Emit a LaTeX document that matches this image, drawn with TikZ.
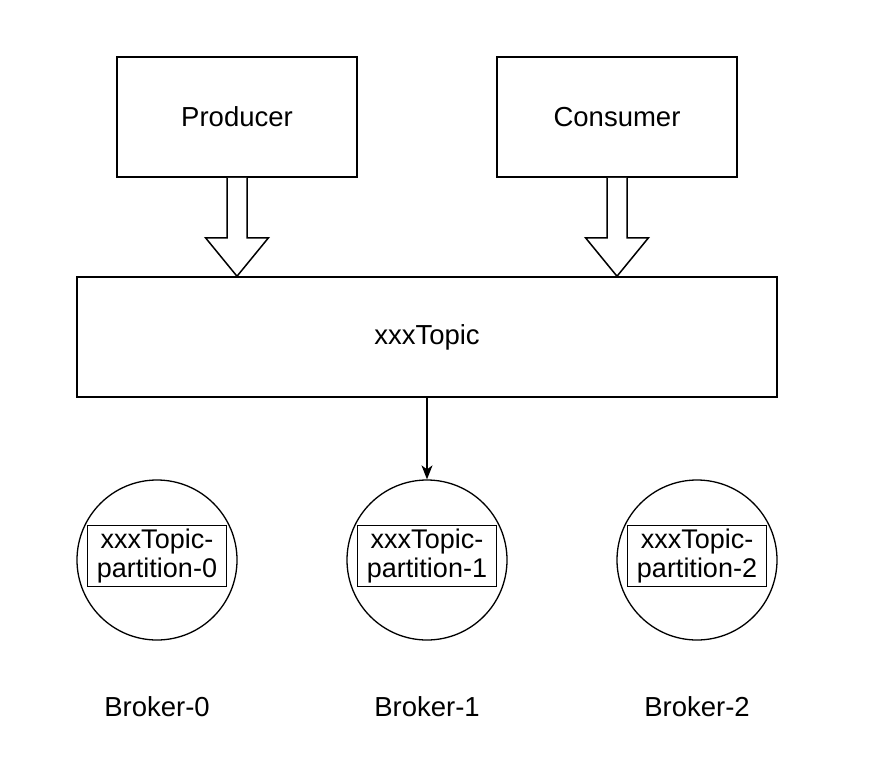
\documentclass[tikz,border=0pt]{standalone}
\usepackage{fontspec}
\setmainfont{Liberation Sans}
\usetikzlibrary{calc,arrows.meta}
\tikzset{
  box/.style={draw,line width=1.5pt,minimum width=240pt,minimum height=120pt,font=\fontsize{27.5}{32}\selectfont},
  broker/.style={draw,circle,line width=1.3pt,minimum size=160pt,inner sep=0pt},
  part/.style={draw,line width=1.3pt,minimum width=139pt,minimum height=61pt,inner sep=0pt,align=center,font=\fontsize{27}{28.5}\selectfont},
  label/.style={font=\fontsize{27.5}{32}\selectfont},
  fat/.style={draw,line width=1.5pt,fill=white,line join=miter}
}
\newcommand\fatarrow[2]{%
  \draw[fat] ($(#1.south)+(-10,0)$) -- ++(0,60) -- ++(-21.5,0)
    -- (#1.south |- #2.north) -- ($(#1.south)+(31.5,60)$) -- ++(-21.5,0)
    -- ($(#1.south)+(10,0)$);}
\begin{document}
\begin{tikzpicture}[x=1pt,y=-1pt]
  \useasboundingbox (0,0) rectangle (882,778);
  \node[box] (prod) at (237,117) {Producer};
  \node[box] (cons) at (617,117) {Consumer};
  \node[box,minimum width=700pt] (topic) at (427,337) {xxxTopic};
  \fatarrow{prod}{topic}
  \fatarrow{cons}{topic}
  \foreach \i/\x in {0/157,1/427,2/697} {
    \node[broker] (b\i) at (\x,560) {};
    \node[part] (p\i) at (\x,556) {xxxTopic-\\partition-\i};
    \node[label] (l\i) at (\x,707) {Broker-\i};
  }
  \draw[line width=1.3pt,-{Stealth[length=14pt,width=11pt,inset=4pt]}] (topic) -- (b1);
\end{tikzpicture}
\end{document}
